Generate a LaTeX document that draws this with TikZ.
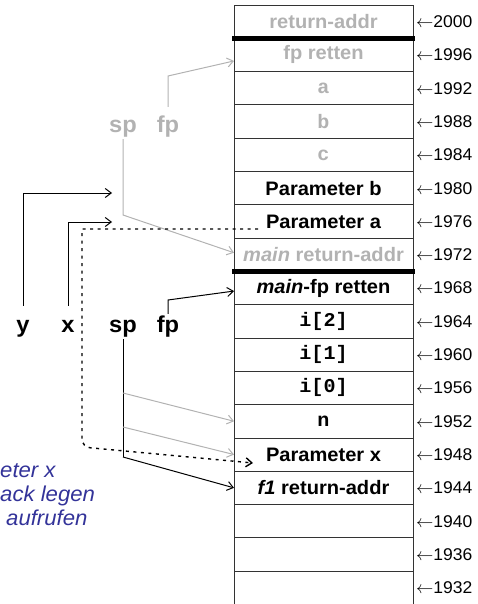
\documentclass[tikz,border=0pt]{standalone}
\usepackage{fontspec}
\setmainfont{Liberation Sans}[FakeStretch=1.03]
\setmonofont{Liberation Mono}[FakeStretch=1.03]
\usetikzlibrary{positioning,arrows.meta}
\definecolor{ltgray}{RGB}{178,178,178}
\definecolor{noteblue}{RGB}{51,51,153}

\begin{document}
\begin{tikzpicture}[
  x=1pt, y=-1pt,
  cell/.style={rectangle, draw=black!80, line width=0.8pt, minimum width=179pt, minimum height=33.3pt, outer sep=0pt, inner sep=0pt, font=\fontsize{19.5}{22}\selectfont\bfseries},
  old/.style={text=ltgray},
  adr/.style={anchor=west, inner sep=0pt, xshift=3pt, font=\fontsize{17}{19}\selectfont},
  reg/.style={inner sep=0pt, text height=17pt, text depth=5pt, font=\fontsize{23}{26}\selectfont\bfseries},
  ptr/.style={->, line width=1pt},
  >={Straight Barb[length=6pt,width=9pt]}
]
\useasboundingbox (0,0) rectangle (477,604);

% Stack cells
\node[cell, old] (c2000) at (323.5,21.65) {return-addr};
\node[cell, old, below=0pt of c2000] (c1996) {fp retten};
\node[cell, old, below=0pt of c1996] (c1992) {\ttfamily a};
\node[cell, old, below=0pt of c1992] (c1988) {\ttfamily b};
\node[cell, old, below=0pt of c1988] (c1984) {\ttfamily c};
\node[cell, below=0pt of c1984] (c1980) {Parameter b};
\node[cell, below=0pt of c1980] (c1976) {Parameter a};
\node[cell, old, below=0pt of c1976] (c1972) {\textit{main} return-addr};
\node[cell, below=0pt of c1972] (c1968) {\textit{main}-fp retten};
\node[cell, below=0pt of c1968] (c1964) {\ttfamily i[2]};
\node[cell, below=0pt of c1964] (c1960) {\ttfamily i[1]};
\node[cell, below=0pt of c1960] (c1956) {\ttfamily i[0]};
\node[cell, below=0pt of c1956] (c1952) {\ttfamily n};
\node[cell, below=0pt of c1952] (c1948) {Parameter x};
\node[cell, below=0pt of c1948] (c1944) {\textit{f1} return-addr};
\node[cell, below=0pt of c1944] (c1940) {};
\node[cell, below=0pt of c1940] (c1936) {};
\node[cell, below=0pt of c1936] (c1932) {};

% Frame borders
\draw[line width=4.5pt] ([xshift=-2pt]c2000.south west) -- ([xshift=2pt]c2000.south east);
\draw[line width=4.5pt] ([xshift=-2pt]c1972.south west) -- ([xshift=2pt]c1972.south east);

% Addresses
\foreach \a in {2000,1996,...,1932}
  \node[adr] (a\a) at (c\a.east) {$\leftarrow$\a};

% Registers and variables
\node[reg, old] (oldsp) at (123,127) {sp};
\node[reg, old] (oldfp) at (168,127) {fp};
\node[reg] (vary) at (23,326) {y};
\node[reg] (varx) at (68,326) {x};
\node[reg] (sp) at (123,326) {sp};
\node[reg] (fp) at (168,326) {fp};

\coordinate (oldfpbend) at (168,76);
\coordinate (oldspbend) at (123,215);
\coordinate (fpbend) at (168,300);
\coordinate (spbend) at (123,457);
\coordinate (spn) at (123,393);
\coordinate (spx) at (123,427);
\coordinate (ytip) at (112,193);
\coordinate (xtip) at (112,222);
\coordinate (dstart) at (258,229);
\coordinate (dtop) at (82,229);
\coordinate (dleft) at (82,447);
\coordinate (dend) at (253,463);

% Old frame pointers
\draw[ptr, ltgray] ([yshift=9pt]oldfp.north) -- (oldfpbend) -- ([yshift=-6pt]c1996.west);
\draw[ptr, ltgray] ([yshift=-1pt]oldsp.south) -- (oldspbend) -- ([yshift=2pt]c1972.west);

% Variables
\draw[ptr] ([yshift=9pt]vary.north) |- (ytip);
\draw[ptr] ([yshift=9pt]varx.north) |- (xtip);

% New frame pointers
\draw[ptr] ([yshift=1pt]fp.north) -- (fpbend) -- ([yshift=-3pt]c1968.west);
\draw[line width=1pt] ([yshift=-2pt]sp.south) -- (spbend);
\draw[ptr] (spbend) -- (c1944.west);
\draw[ptr, ltgray] (spn) -- (c1952.west);
\draw[ptr, ltgray] (spx) -- (c1948.west);

% Copy parameter
\draw[ptr, line width=1.4pt, dash pattern=on 3pt off 4.5pt] (dstart) -- (dtop) {[rounded corners=8pt] -- (dleft) -- (dend)};

% Note
\node[anchor=north west, align=left, inner sep=0pt, text=noteblue, font=\fontsize{21.5}{24}\selectfont\itshape] (note) at (0,463) {eter x\\ack legen\\\hspace{6pt}aufrufen};

\end{tikzpicture}
\end{document}
